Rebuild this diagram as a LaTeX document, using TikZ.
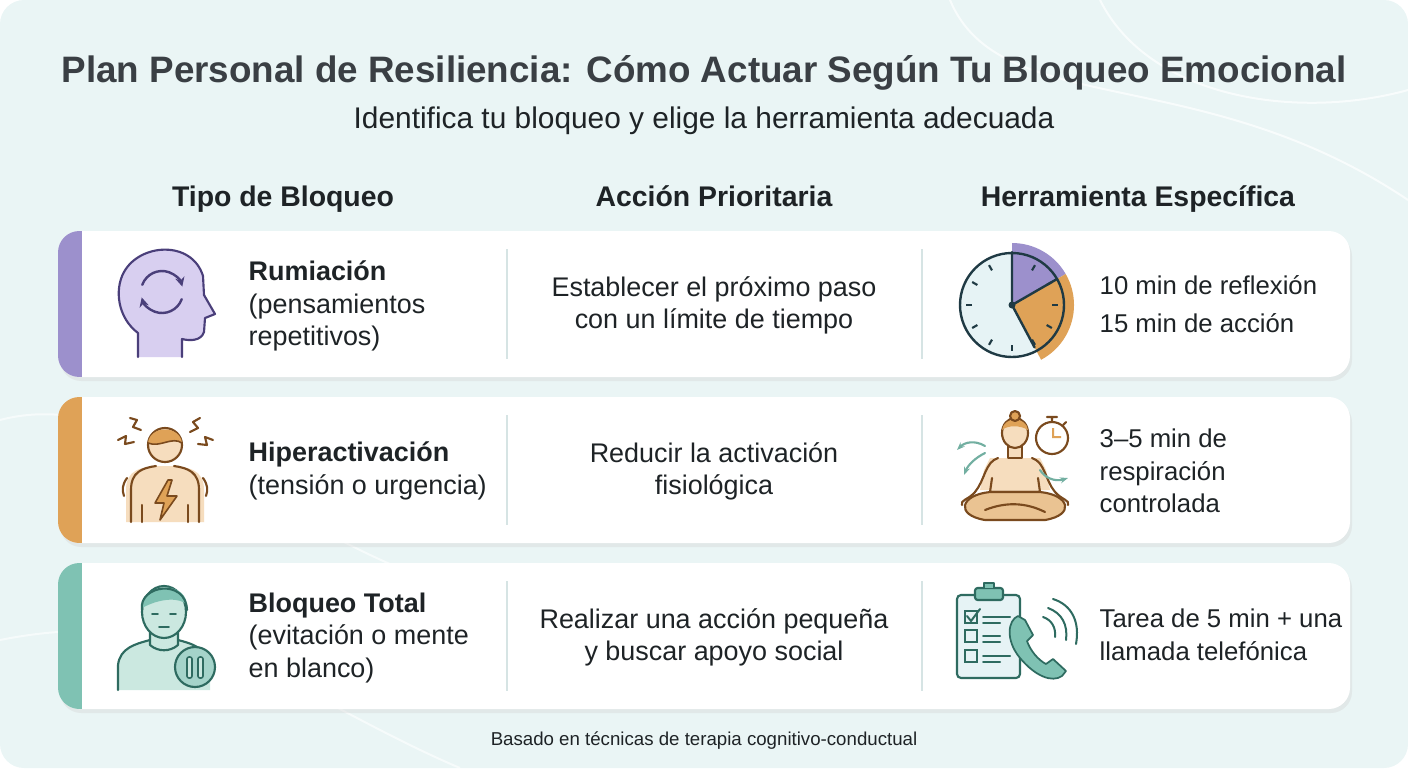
\documentclass[tikz,border=0pt]{standalone}
\usepackage{fontspec}
\setmainfont{Liberation Sans}
\usetikzlibrary{arrows.meta,calc}
\definecolor{bg}{HTML}{EAF5F5}
\definecolor{ttl}{HTML}{3A3F44}
\definecolor{txt}{HTML}{1E2326}
\definecolor{pu}{HTML}{9C90CC}
\definecolor{pul}{HTML}{D8CFF0}
\definecolor{pud}{HTML}{4A3F7A}
\definecolor{or}{HTML}{DFA257}
\definecolor{orl}{HTML}{F6DDBE}
\definecolor{ord}{HTML}{7A4A1E}
\definecolor{te}{HTML}{7FC2B3}
\definecolor{tel}{HTML}{CBE8E0}
\definecolor{ted}{HTML}{2E6B60}
\definecolor{cl}{HTML}{1F3A44}
\definecolor{face}{HTML}{E6F3F5}
\definecolor{divc}{HTML}{D6E4E4}
\tikzset{
  body/.style={font=\fontsize{20.2}{24.4}\selectfont, text=txt, align=left, anchor=west},
  rbody/.style={font=\fontsize{19.3}{24.4}\selectfont, text=txt, align=left, anchor=west},
  mid/.style={font=\fontsize{20.2}{24}\selectfont, text=txt, align=center},
  hdr/.style={font=\bfseries\fontsize{21.3}{25}\selectfont, text=txt, anchor=base},
  ln/.style={line width=1.6pt, line cap=round, line join=round},
}
\newcommand{\card}[2]{%
  \fill[black!18, opacity=0.35, rounded corners=16] (60,{#1+4}) rectangle (1352,{#1+150});
  \fill[white, rounded corners=16] (58,#1) rectangle (1350,{#1+146});
  \begin{scope}
    \clip[rounded corners=16] (58,#1) rectangle (1350,{#1+146});
    \fill[#2] (58,#1) rectangle (82,{#1+146});
  \end{scope}
  \draw[divc, line width=0.9pt] (507,{#1+18}) -- (507,{#1+128});
  \draw[divc, line width=0.9pt] (922,{#1+18}) -- (922,{#1+128});
}
\begin{document}
\begin{tikzpicture}[x=0.75pt,y=-0.75pt]
\useasboundingbox (0,0) rectangle (1408,768);
\fill[bg, rounded corners=18] (0,0) rectangle (1408,768);
\draw[white, line width=1.5pt, opacity=0.7] (950,0) .. controls (1000,120) and (1200,60) .. (1408,200);
\draw[white, line width=1.5pt, opacity=0.7] (1100,0) .. controls (1150,100) and (1300,120) .. (1408,90);
\draw[white, line width=1.5pt, opacity=0.6] (0,420) .. controls (150,380) and (300,560) .. (500,600);
\draw[white, line width=1.5pt, opacity=0.6] (0,640) .. controls (200,600) and (300,700) .. (460,768);

\node[font=\bfseries\fontsize{27.6}{30}\selectfont, text=ttl] (title) at (704,73) {Plan Personal de Resiliencia: Cómo Actuar Según Tu Bloqueo Emocional};
\node[font=\fontsize{22.4}{26}\selectfont, text=txt] (sub) at (704,121) {Identifica tu bloqueo y elige la herramienta adecuada};
\node[hdr] (h1) at (283,206) {Tipo de Bloqueo};
\node[hdr] (h2) at (714,206) {Acción Prioritaria};
\node[hdr] (h3) at (1138,206) {Herramienta Específica};

\card{231}{pu}
\card{397}{or}
\card{563}{te}

% row texts
\node[body] (r1) at (244,306) {\textbf{Rumiación}\\(pensamientos\\repetitivos)};
\node[mid] (m1) at (714,305) {Establecer el próximo paso\\con un límite de tiempo};
\node[rbody, font=\fontsize{19.3}{29}\selectfont] (t1) at (1095,304) {10 min de reflexión\\15 min de acción};
\node[body] (r2) at (244,471) {\textbf{Hiperactivación}\\(tensión o urgencia)};
\node[mid] (m2) at (714,471) {Reducir la activación\\fisiológica};
\node[rbody] (t2) at (1095,471) {3–5 min de\\respiración\\controlada};
\node[body] (r3) at (244,638) {\textbf{Bloqueo Total}\\(evitación o mente\\en blanco)};
\node[mid] (m3) at (714,637) {Realizar una acción pequeña\\y buscar apoyo social};
\node[rbody] (t3) at (1095,635) {Tarea de 5 min + una\\llamada telefónica};
\node[font=\fontsize{14}{16}\selectfont, text=txt] (foot) at (704,741) {Basado en técnicas de terapia cognitivo-conductual};

% icon 1 head
\draw[ln, pud, fill=pul] (138,357) -- (138,333) .. controls (118,318) and (114,290) .. (124,272) .. controls (140,243) and (192,240) .. (203,276) -- (204,295) -- (215,314) -- (205,318) -- (204,332) .. controls (201,341) and (190,341) .. (182,339) -- (182,357);
\draw[ln, pud, line width=1.8pt, -{Stealth[length=7pt,width=7pt]}] ($(162,292)+(-160:21)$) arc (-160:-15:21);
\draw[ln, pud, line width=1.8pt, -{Stealth[length=7pt,width=7pt]}] ($(162,292)+(20:21)$) arc (20:165:21);

% icon 2 hyper
\fill[orl] (126,522) -- (126,490) .. controls (126,470) and (140,466) .. (165,466) .. controls (190,466) and (204,470) .. (204,490) -- (204,522) -- cycle;
\draw[ln, ord] (131,522) -- (131,490) .. controls (131,472) and (142,468) .. (156,466);
\draw[ln, ord] (199,522) -- (199,490) .. controls (199,472) and (188,468) .. (174,466);
\draw[ln, ord] (142,505) -- (142,522);
\draw[ln, ord] (188,505) -- (188,522);
\draw[ln, ord, fill=orl] (165,445) circle (17);
\fill[or] (148,443) .. controls (150,425) and (180,425) .. (182,443) .. controls (172,436) and (160,448) .. (148,443);
\draw[line width=1.2pt, ord] (148,443) .. controls (160,448) and (172,436) .. (182,443);
\draw[ln, ord, fill=or, line width=1.2pt] (168,480) -- (155,503) -- (164,503) -- (160,520) -- (177,496) -- (167,496) -- (172,480) -- cycle;
\draw[ln, ord] (130,418) -- (137,420) -- (133,427) -- (141,430);
\draw[ln, ord] (118,440) -- (126,436) -- (125,444) -- (134,442);
\draw[ln, ord] (200,418) -- (193,422) -- (198,428) -- (190,432);
\draw[ln, ord] (213,440) -- (205,437) -- (207,445) -- (198,444);
\draw[ln, ord] (127,478) .. controls (122,485) and (122,490) .. (124,496);
\draw[ln, ord] (203,478) .. controls (208,485) and (208,490) .. (206,496);

% icon 3 person
\fill[tel] (118,690) -- (118,665) .. controls (120,648) and (135,644) .. (150,640) -- (178,640) .. controls (195,644) and (208,650) .. (210,665) -- (210,690) -- cycle;
\draw[ln, ted] (118,690) -- (118,665) .. controls (120,648) and (135,644) .. (150,640);
\draw[ln, ted] (178,640) .. controls (190,643) and (198,646) .. (203,652);
\draw[ln, ted, fill=tel] (150,632) -- (150,645) .. controls (158,652) and (170,652) .. (178,645) -- (178,632);
\draw[ln, ted, fill=tel] (164,612) ellipse (22 and 26);
\fill[te] (142,608) .. controls (138,585) and (185,578) .. (187,605) .. controls (180,597) and (160,598) .. (142,608);
\draw[ln, ted] (142,610) .. controls (138,585) and (186,578) .. (187,610);
\draw[ln, ted, line width=1.2pt] (152,614) -- (158,614) (170,614) -- (176,614) (159,627) -- (169,627);
\draw[ln, ted, fill=te!70] (195,667) circle (20);
\draw[ted, fill=tel, line width=1.2pt, rounded corners=1.5] (187,657) rectangle (192,678) (198,657) rectangle (203,678);

% clock
\fill[face] (1012,305) circle (52);
\fill[pu] (1012,305) -- (1012,243) arc (-90:-30:62) -- cycle;
\fill[or] (1012,305) -- ++(-30:62) arc (-30:62:62) -- cycle;
\draw[cl, line width=1.8pt] (1012,305) circle (52);
\foreach \a in {0,30,...,330} \draw[cl, line width=1.6pt] ($(1012,305)+(\a:40)$) -- ($(1012,305)+(\a:46)$);
\draw[cl, line width=1.8pt, line cap=round] (1012,252) -- (1012,305) -- ++(-30:52) (1012,305) -- ++(62:48);
\fill[cl] (1012,305) circle (3.5);

% meditation
\begin{scope}[ord, ln]
\fill[orl] (990,458) -- (1040,458) -- (1046,470) -- (1050,490) -- (980,490) -- (984,470) -- cycle;
\draw (998,458) .. controls (985,462) and (985,480) .. (975,492) .. controls (968,500) and (960,500) .. (962,505);
\draw (1032,458) .. controls (1045,462) and (1045,480) .. (1055,492) .. controls (1062,500) and (1070,500) .. (1068,505);
\draw[fill=orl] (992,478) -- (990,492) -- (1040,492) -- (1038,478);
\draw[fill=or!65] (990,492) .. controls (960,495) and (955,515) .. (985,520) -- (1045,520) .. controls (1075,515) and (1070,495) .. (1040,492) -- cycle;
\draw (985,510) .. controls (1005,502) and (1025,502) .. (1045,512);
\draw[fill=orl] (1008,440) rectangle (1022,458);
\draw[fill=orl] (1015,433) ellipse (13 and 15);
\fill[or] (1002,430) .. controls (1004,416) and (1026,416) .. (1028,430) .. controls (1020,425) and (1008,425) .. (1002,430);
\draw[fill=or] (1015,416) circle (5);
\end{scope}
\draw[ln, ord, fill=white] (1052,438) circle (16);
\draw[ln, ord] (1052,422) -- (1052,417) (1047,417) -- (1057,417) (1063,425) -- (1066,422);
\fill[or] (1052,438) -- (1052,428) -- (1054,428) -- (1054,436) -- (1061,436) -- (1061,438) -- cycle;
\begin{scope}[te!90!black, line width=1.6pt, line cap=round]
\draw[-{Stealth[length=6pt]}] (985,446) .. controls (975,440) and (965,442) .. (957,450);
\draw[-{Stealth[length=6pt]}] (985,453) .. controls (975,458) and (968,465) .. (964,475);
\draw[-{Stealth[length=6pt]}] (1040,470) .. controls (1045,478) and (1055,482) .. (1068,478);
\end{scope}

% clipboard + phone
\draw[ln, ted, fill=face, rounded corners=3] (957,595) rectangle (1020,678);
\draw[ln, ted, fill=te, rounded corners=2] (975,588) rectangle (1003,600);
\draw[ln, ted, fill=te] (984,588) -- (984,583) -- (994,583) -- (994,588);
\begin{scope}[ted, line width=1.5pt, line cap=round]
\draw (965,611) rectangle (977,623) (965,630) rectangle (977,642) (965,650) rectangle (977,662);
\draw (967,616) -- (971,621) -- (980,609);
\draw (983,617) -- (1010,617) (983,623) -- (1000,623) (983,636) -- (1000,636) (983,642) -- (1000,642) (983,656) -- (1010,656) (983,662) -- (1000,662);
\draw (1043,617) .. controls (1052,620) and (1056,628) .. (1055,637);
\draw (1048,608) .. controls (1062,613) and (1068,625) .. (1066,640);
\draw (1053,599) .. controls (1072,605) and (1080,622) .. (1076,644);
\end{scope}
\draw[ted, fill=te, line width=1.3pt, line join=round] (1018,616) .. controls (1008,620) and (1005,640) .. (1020,658) .. controls (1035,676) and (1052,683) .. (1062,676) -- (1066,671) -- (1053,659) -- (1046,664) .. controls (1038,660) and (1030,650) .. (1027,641) -- (1033,635) -- (1025,620) -- cycle;
\end{tikzpicture}
\end{document}
